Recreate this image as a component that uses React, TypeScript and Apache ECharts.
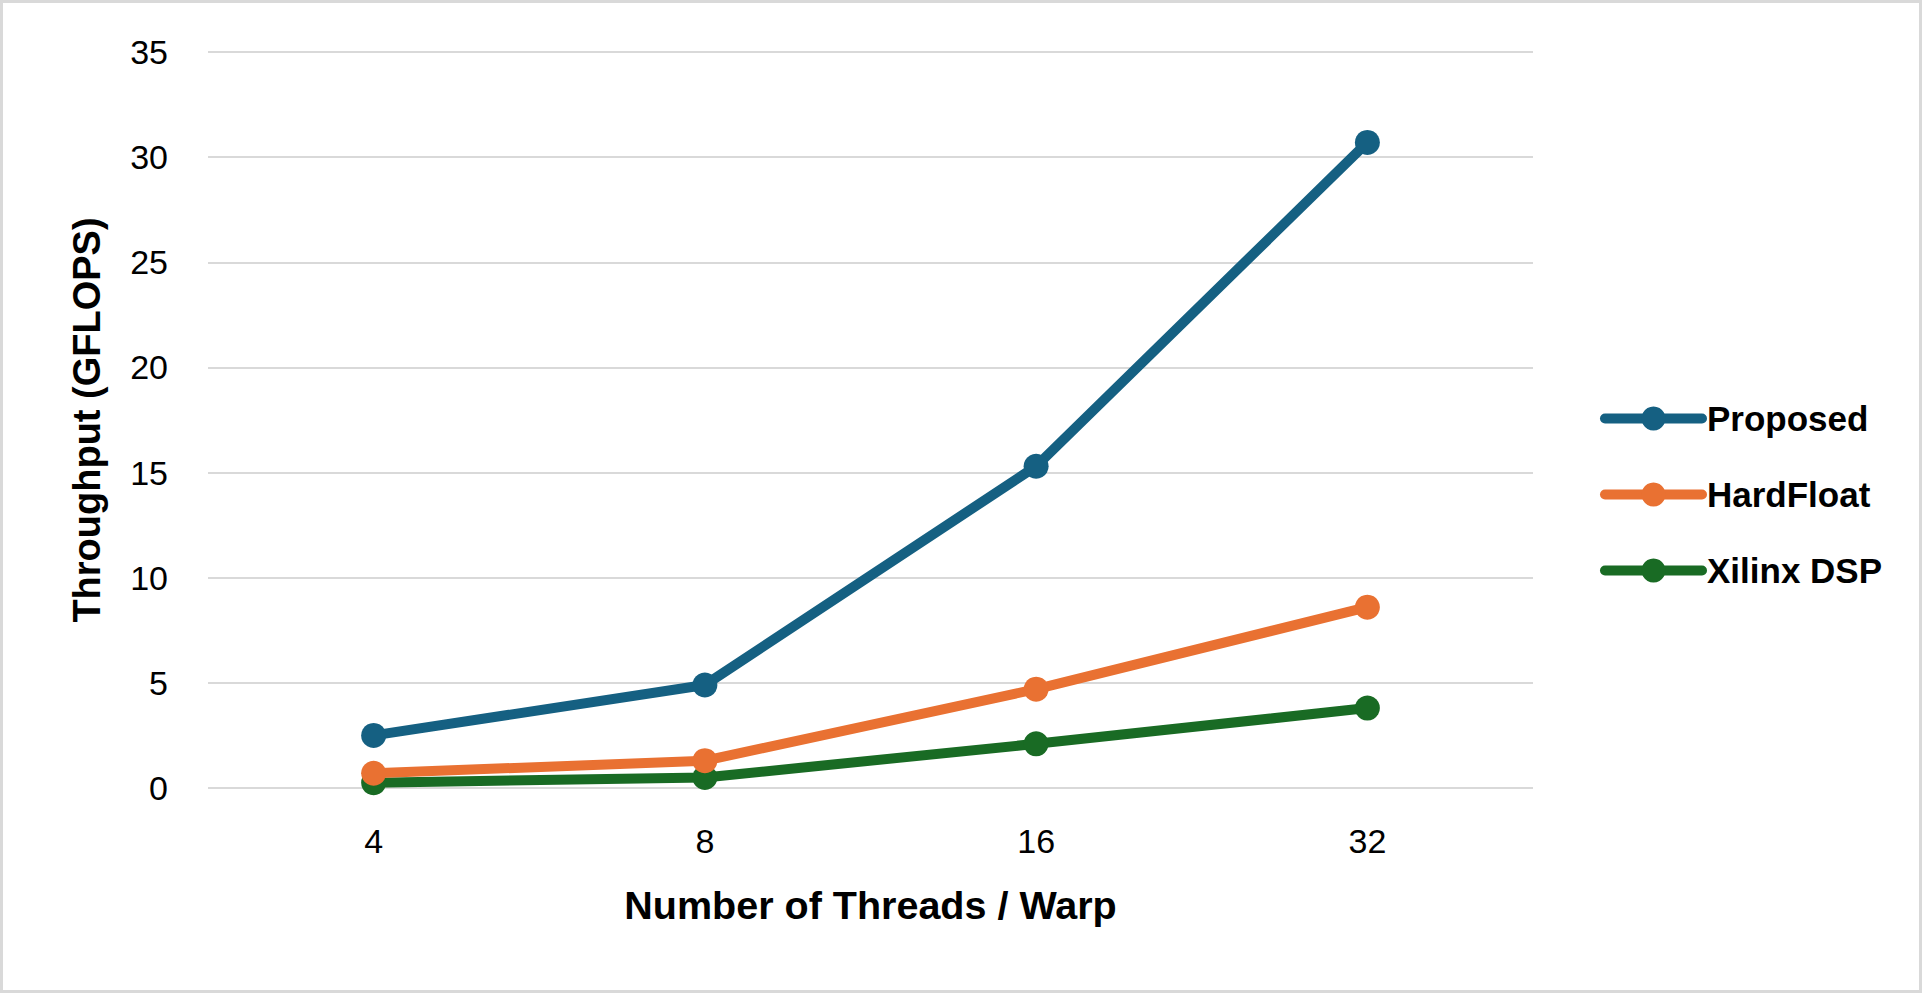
import React, { useEffect, useRef } from "react";
import * as echarts from "echarts";

const categories = ["4", "8", "16", "32"];
const proposed = [2.5, 4.9, 15.3, 30.7];
const hardFloat = [0.7, 1.3, 4.7, 8.6];
const xilinxDsp = [0.25, 0.5, 2.1, 3.8];
const seriesNames = ["Proposed", "HardFloat", "Xilinx DSP"];
const colors = ["#156082", "#E97132", "#196B24"];

const FONT = "Liberation Sans, Arial, sans-serif";

export default function App() {
  const ref = useRef<HTMLDivElement>(null);
  useEffect(() => {
    if (!ref.current) return;
    const chart = echarts.init(ref.current, null, { renderer: "svg" });
    const data = [proposed, hardFloat, xilinxDsp];
    chart.setOption({
      animation: false,
      backgroundColor: "#ffffff",
      textStyle: { fontFamily: FONT },
      grid: { left: 208, right: 389, top: 52, bottom: 205, containLabel: false },
      graphic: [
        {
          type: "rect",
          shape: { x: 1.5, y: 1.5, width: 1919, height: 990 },
          style: { fill: "none", stroke: "#D9D9D9", lineWidth: 3 },
          silent: true,
        },
      ],
      legend: {
        orient: "vertical",
        left: 1600,
        top: 401,
        itemWidth: 97,
        itemHeight: 30,
        itemGap: 41,
        padding: 0,
        data: seriesNames,
        lineStyle: { width: 10, cap: "round" },
        textStyle: { fontSize: 35, fontWeight: "bold", color: "#000", fontFamily: FONT },
      },
      xAxis: {
        type: "category",
        data: categories,
        boundaryGap: true,
        axisLine: { show: false },
        axisTick: { show: false },
        axisLabel: { fontSize: 34, color: "#000", margin: 36, fontFamily: FONT },
        name: "Number of Threads / Warp",
        nameLocation: "middle",
        nameGap: 97,
        nameTextStyle: { fontSize: 39.5, fontWeight: "bold", color: "#000", fontFamily: FONT },
      },
      yAxis: {
        type: "value",
        min: 0,
        max: 35,
        interval: 5,
        axisLine: { show: false },
        axisTick: { show: false },
        axisLabel: { fontSize: 34, color: "#000", margin: 40, fontFamily: FONT },
        splitLine: { lineStyle: { color: "#D9D9D9", width: 2 } },
        name: "Throughput (GFLOPS)",
        nameLocation: "middle",
        nameRotate: 90,
        nameGap: 102,
        nameTextStyle: { fontSize: 38, fontWeight: "bold", color: "#000", fontFamily: FONT },
      },
      series: seriesNames.map((name, i) => ({
        name,
        type: "line",
        data: data[i],
        symbol: "circle",
        symbolSize: 25,
        showSymbol: true,
        color: colors[i],
        lineStyle: { width: 10, color: colors[i], cap: "round", join: "round" },
        itemStyle: { color: colors[i] },
        z: 10 - i,
      })),
    });
    return () => chart.dispose();
  }, []);
  return (
    <div
      ref={ref}
      style={{ position: "fixed", left: 0, top: 0, width: 1922, height: 993 }}
    />
  );
}
